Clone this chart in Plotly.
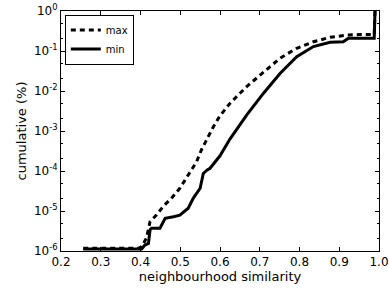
import plotly.graph_objects as go

max_x = [0.256, 0.395, 0.403, 0.407, 0.415, 0.424, 0.44, 0.457, 0.478, 0.499, 0.52, 0.541,
         0.554, 0.567, 0.583, 0.6, 0.625, 0.667, 0.709, 0.751, 0.793, 0.835, 0.877, 0.919,
         0.95, 0.988, 0.99]
max_y = [1.17e-6, 1.17e-6, 1.3e-6, 1.55e-6, 2.1e-6, 5.4e-6, 7.9e-6, 1.3e-5, 2.1e-5, 3.7e-5,
         7.9e-5, 1.7e-4, 3.5e-4, 6.3e-4, 1.26e-3, 2.4e-3, 4.9e-3, 1.29e-2, 3.0e-2, 6.6e-2,
         0.117, 0.17, 0.22, 0.25, 0.257, 0.257, 1.0]

min_x = [0.256, 0.403, 0.411, 0.42, 0.424, 0.428, 0.449, 0.457, 0.462, 0.483, 0.499, 0.52,
         0.533, 0.55, 0.558, 0.567, 0.575, 0.6, 0.625, 0.667, 0.709, 0.751, 0.793, 0.835,
         0.877, 0.91, 0.923, 0.988, 0.99]
min_y = [1.12e-6, 1.12e-6, 1.41e-6, 1.55e-6, 3.4e-6, 3.7e-6, 3.7e-6, 5.4e-6, 6.6e-6, 7.2e-6,
         7.9e-6, 1.17e-5, 2.1e-5, 3.7e-5, 8.7e-5, 1.05e-4, 1.17e-4, 2.4e-4, 6.3e-4, 2.5e-3,
         8.7e-3, 2.75e-2, 7.2e-2, 0.129, 0.166, 0.17, 0.209, 0.209, 1.0]

x_ticks = [0.2, 0.3, 0.4, 0.5, 0.6, 0.7, 0.8, 0.9, 1.0]
x_tick_labels = ["0.2", "0.3", "0.4", "0.5", "0.6", "0.7", "0.8", "0.9", "1.0"]
y_ticks = [1e-6, 1e-5, 1e-4, 1e-3, 1e-2, 1e-1, 1]
y_tick_labels = ["10<sup>-6</sup>", "10<sup>-5</sup>", "10<sup>-4</sup>", "10<sup>-3</sup>",
                 "10<sup>-2</sup>", "10<sup>-1</sup>", "10<sup>0</sup>"]

font = "DejaVu Sans"

fig = go.Figure()
fig.add_trace(go.Scatter(x=max_x, y=max_y, mode="lines", name="max",
                         line=dict(color="black", width=3, dash="5px,4px")))
fig.add_trace(go.Scatter(x=min_x, y=min_y, mode="lines", name="min",
                         line=dict(color="black", width=3)))

fig.update_layout(
    width=389, height=289,
    margin=dict(l=61, r=10, t=11, b=38),
    paper_bgcolor="white", plot_bgcolor="white",
    font=dict(family=font, size=12, color="black"),
    showlegend=True,
    legend=dict(x=0.012, y=0.985, xanchor="left", yanchor="top",
                bordercolor="black", borderwidth=1, bgcolor="white",
                font=dict(size=10), tracegroupgap=0,
                itemwidth=30),
)
fig.update_xaxes(
    range=[0.2, 1.0], tickvals=x_ticks, ticktext=x_tick_labels, automargin=False,
    showgrid=False, zeroline=False, showline=True, linecolor="black", linewidth=1,
    mirror="allticks", ticks="inside", ticklen=4, tickcolor="black",
    title=dict(text="neighbourhood similarity", font=dict(size=13), standoff=0),
)
fig.update_yaxes(
    type="log", range=[-6, 0], tickvals=y_ticks, ticktext=y_tick_labels, automargin=False,
    showgrid=False, zeroline=False, showline=True, linecolor="black", linewidth=1,
    mirror="allticks", ticks="inside", ticklen=4, tickcolor="black",
    minor=dict(ticks="inside", ticklen=2, tickcolor="black", showgrid=False),
    title=dict(text="cumulative (%)", font=dict(size=13), standoff=4),
)

fig.write_html("out.html", config={"displayModeBar": False},
               post_script="document.body.style.margin='0';document.body.style.overflow='hidden';")
